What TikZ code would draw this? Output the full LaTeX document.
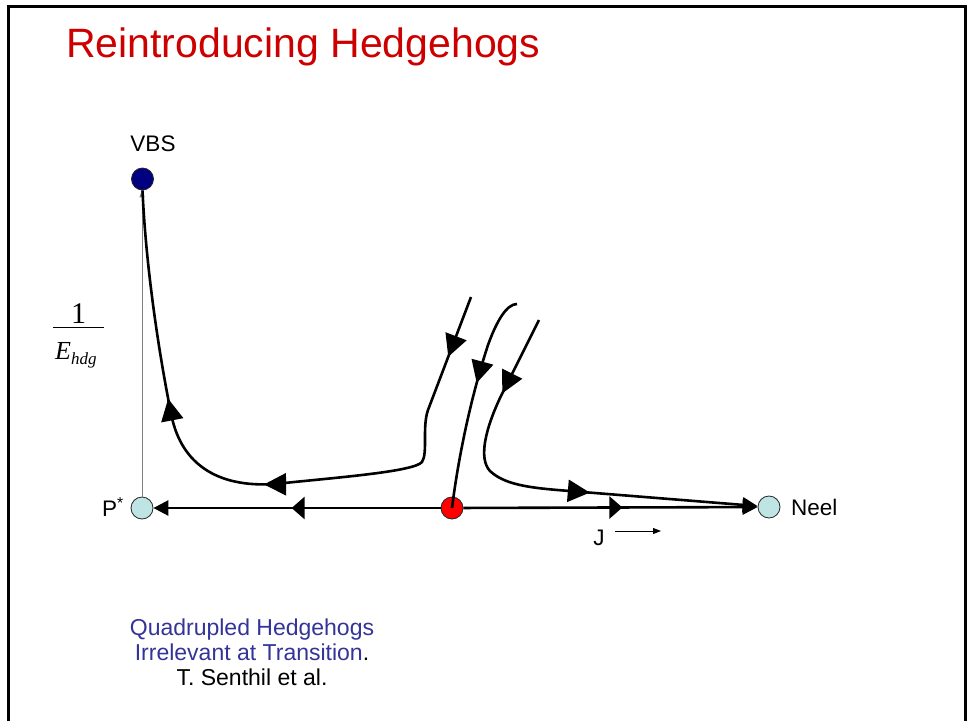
\documentclass[tikz,border=0pt]{standalone}
\usepackage{fontspec}
\setmainfont{Liberation Sans}
\newfontfamily\timesf{Liberation Serif}
\usetikzlibrary{arrows.meta,decorations.markings}
\definecolor{titlered}{RGB}{204,0,0}
\definecolor{fpblue}{RGB}{190,228,228}
\definecolor{vbsblue}{RGB}{0,0,128}
\definecolor{noteblue}{RGB}{51,51,153}
\tikzset{
  bigtip/.tip={Triangle[length=22pt,width=22pt]},
  midtip/.tip={Triangle[length=13pt,width=22pt]},
  endtip/.tip={Triangle[length=15pt,width=15pt]},
  smalltip/.tip={Triangle[length=8pt,width=6pt]},
  axistip/.tip={Triangle[length=7pt,width=5pt]}
}
\begin{document}
\begin{tikzpicture}[x=1pt,y=-1pt,
  fp/.style={circle,draw=black!85,line width=0.8pt,minimum size=22pt,inner sep=0pt},
  flow/.style={line width=2.6pt,line join=round},
  lbl/.style={font=\fontsize{22.5}{26}\selectfont,inner sep=0pt}
]
\useasboundingbox (0,0) rectangle (967,721);
% frame
\draw[line width=2.7pt] (8.7,721) -- (8.7,6.2) -- (965.5,6.2) -- (965.5,721);
% title
\node[anchor=base west,inner sep=0pt,text=titlered,font=\fontsize{41}{48}\selectfont] (title) at (66,57) {Reintroducing Hedgehogs};
% fixed points
\node[fp,fill=vbsblue] (V) at (142.5,179) {};
\node[fp,fill=fpblue] (P) at (142,508) {};
\node[fp,fill=red] (R) at (452,508) {};
\node[fp,fill=fpblue] (N) at (769,507) {};
\node[lbl,anchor=base] (Vl) at (153,151) {VBS};
\node[lbl,anchor=base east] (Pl) at (124,516) {P\textsuperscript{*}};
\node[lbl,anchor=base west] (Nl) at (791,515) {Neel};
\node[lbl,anchor=base] (Jl) at (599,545) {J};
% axis
\draw[gray,line width=1pt,-{axistip}] (P.north) -- (P.north |- V.south);
% axis label
\node[inner sep=0pt,font=\timesf\fontsize{30}{30}\selectfont,anchor=base] (one) at (78.5,323) {1};
\draw[line width=0.9pt] (53,327.5) coordinate (fa) -- (104,327.5) coordinate (fb);
\node[inner sep=0pt,font=\timesf\itshape\fontsize{26}{26}\selectfont,anchor=base west] (E) at (55,359) {E\raisebox{-5pt}{\fontsize{17}{17}\selectfont hdg}};
% horizontal flows
\draw[flow,-{endtip},postaction={decorate},decoration={markings,mark=at position 149pt with {\arrow{midtip}}}] (R) -- (P);
\draw[flow,-{endtip},postaction={decorate},decoration={markings,mark=at position 159pt with {\arrow{midtip}}}] (R) -- (N);
% J arrow
\coordinate (ja) at (615,531);
\coordinate (jb) at (661,531);
\draw[line width=1pt,-{smalltip}] (ja) -- (jb);
% curves
\coordinate (s1) at (471,297);
\coordinate (s2) at (517,304);
\coordinate (s3) at (539,320);
\draw[flow,postaction={decorate},decoration={markings,
   mark=at position 64pt with {\arrow{bigtip}},
   mark=at position 334pt with {\arrow{bigtip}},
   mark=at position 478pt with {\arrow{bigtip}}}]
  (s1) -- (428,410) .. controls (422,427) and (428,453) .. (422,462)
  .. controls (414,472) and (330,478) .. (275,484)
  .. controls (215,488) and (182,462) .. (172,418)
  .. controls (160,360) and (146,270) .. (V.south);
\draw[flow,postaction={decorate},decoration={markings,
   mark=at position 92pt with {\arrow{bigtip}}}]
  (s2) .. controls (507,304) and (497,320) .. (488,345)
  .. controls (470,400) and (458,460) .. (R.center);
\draw[flow,-{endtip},postaction={decorate},decoration={markings,
   mark=at position 82pt with {\arrow{bigtip}},
   mark=at position 268pt with {\arrow{bigtip}}}]
  (s3) -- (500,398) .. controls (486,428) and (478,458) .. (490,471)
  .. controls (505,485) and (530,488) .. (570,491) -- (N);
% footnote
\node[inner sep=0pt,align=center,font=\fontsize{23}{25}\selectfont,anchor=base] (note) at (252,685)
  {\textcolor{noteblue}{Quadrupled Hedgehogs}\\ \textcolor{noteblue}{Irrelevant at Transition}.\\ T. Senthil et al.};
\end{tikzpicture}
\end{document}
